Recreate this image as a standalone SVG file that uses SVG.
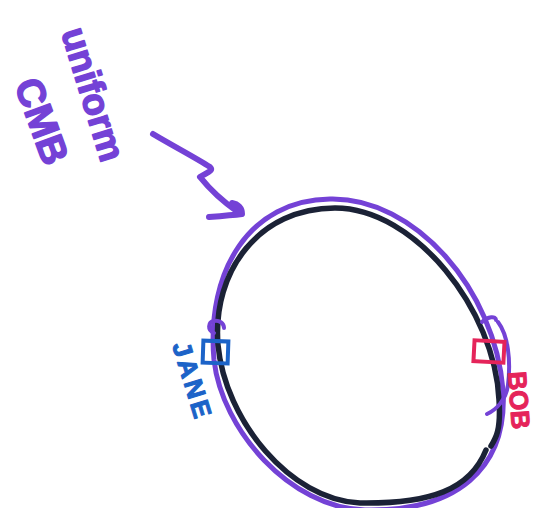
<svg xmlns="http://www.w3.org/2000/svg" width="540" height="508" viewBox="0 0 540 508">
<style>
.pen{fill:none;stroke-linecap:round;stroke-linejoin:round}
.purple{stroke:#7442d6}
.hand{font-family:"Liberation Sans",Arial,sans-serif;font-weight:bold;stroke-linejoin:round}
</style>
<rect width="540" height="508" fill="#ffffff"/>
<g id="label-cmb" class="hand" fill="#7442d6" stroke="#7442d6" stroke-width="1.5">
<text transform="translate(61,32) rotate(73)" font-size="37">uniform</text>
<text transform="translate(14,84) rotate(70)" font-size="39">CMB</text>
</g>
<g id="connectors">
<path class="pen purple" stroke-width="6" d="M153,134 C175,147 196,158 210,167 C214,171 206,173 200,177 C212,192 225,203 238,212"/>
<path class="pen purple" stroke-width="6" d="M209,217 C222,216 234,215 242,214 C242,208 238,204 232,203"/>
</g>
<g id="universe">
<path class="pen purple" stroke-width="5" d="M330,199 C415,197 495,290 503,390 C508,470 455,512 365,510 C290,508 222,430 214,360 C206,270 250,200 330,199 Z"/>
<path class="pen" stroke="#1b2236" stroke-width="5.5" d="M335,208 C415,208 495,310 499,400 C501,430 496,438 491,446 M486,450 C470,490 430,504 360,503 C290,500 225,420 218,345 C212,270 260,208 335,208"/>
</g>
<g id="jane">
<path class="pen purple" stroke-width="4" d="M214,333 C207,330 208,322 214,321 C219,320 224,323 224,328"/>
<rect x="203" y="341" width="25" height="22" fill="none" stroke="#1c63c8" stroke-width="4" transform="rotate(2 215 352)"/>
<text class="hand" fill="#1c63c8" stroke="#1c63c8" stroke-width="1" font-size="26" letter-spacing="3" transform="translate(172,345) rotate(73)">JANE</text>
</g>
<g id="bob">
<path class="pen purple" stroke-width="4" d="M482,322 C488,316 496,316 496,320"/>
<path class="pen purple" stroke-width="4" d="M498,322 C508,335 511,360 508,385 C506,400 496,410 487,414"/>
<rect x="474" y="341" width="30" height="21" fill="none" stroke="#e5245a" stroke-width="4" transform="rotate(3 489 351)"/>
<text class="hand" fill="#e5245a" stroke="#e5245a" stroke-width="1" font-size="26" transform="translate(508,372) rotate(86)">BOB</text>
</g>
</svg>
